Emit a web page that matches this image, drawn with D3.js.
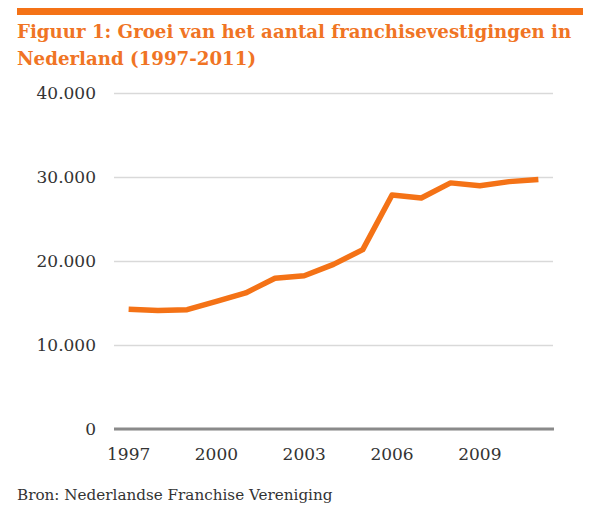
<!DOCTYPE html>
<html>
<head>
<meta charset="utf-8">
<script src="https://cdn.jsdelivr.net/npm/d3@7"></script>
<style>
  body { margin: 0; background: #fff; }
  .title { font-family: "DejaVu Serif", serif; font-weight: bold; fill: #f07424; }
  .tick text { font-family: "DejaVu Serif", serif; fill: #333; }
  .grid line { stroke: #d9d9d9; stroke-width: 1.5; }
  .grid path { display: none; }
  .line { fill: none; stroke: #f47216; stroke-width: 5.5; stroke-linejoin: round; }
</style>
</head>
<body>
<script>
const years = [1997, 1998, 1999, 2000, 2001, 2002, 2003, 2004, 2005, 2006, 2007, 2008, 2009, 2010, 2011];
const vestigingen = [14250, 14100, 14200, 15200, 16200, 17950, 18250, 19600, 21350, 27850, 27500, 29300, 28950, 29450, 29700];
const yTicks = [0, 10000, 20000, 30000, 40000];
const xLabels = [1997, 2000, 2003, 2006, 2009];
const titleLines = ["Figuur 1: Groei van het aantal franchisevestigingen in", "Nederland (1997-2011)"];
const source = "Bron: Nederlandse Franchise Vereniging";

const W = 601, H = 518;
const plotL = 114, plotR = 553, plotT = 93, plotB = 429;

const svg = d3.select("body").append("svg")
    .attr("width", W)
    .attr("height", H);

// orange band at the top
svg.append("rect")
    .attr("x", 17).attr("y", 8)
    .attr("width", 566).attr("height", 7)
    .attr("fill", "#f47216");

svg.selectAll(".title")
    .data(titleLines)
    .enter().append("text")
    .attr("class", "title")
    .attr("x", 17)
    .attr("y", (d, i) => 38 + i * 27)
    .attr("font-size", 18.2)
    .text(d => d);

const x = d3.scaleBand().domain(years).range([plotL, plotR]);
const y = d3.scaleLinear().domain([0, 40000]).range([plotB, plotT]);

const fmt = d => d === 0 ? "0" : d3.format(",")(d).replace(/,/g, ".");

// gridlines + y labels
const gy = svg.append("g")
    .attr("class", "grid")
    .attr("transform", "translate(" + plotL + ",0)")
    .call(d3.axisLeft(y)
        .tickValues(yTicks)
        .tickSize(-(plotR - plotL))
        .tickPadding(18)
        .tickFormat(fmt));
gy.selectAll(".tick text").attr("font-size", 17);

// zero line darker
svg.append("line")
    .attr("x1", plotL).attr("x2", plotR + 1)
    .attr("y1", y(0)).attr("y2", y(0))
    .attr("stroke", "#8a8a8a")
    .attr("stroke-width", 3);

// x axis labels
const gx = svg.append("g")
    .attr("transform", "translate(0," + plotB + ")")
    .call(d3.axisBottom(x)
        .tickValues(xLabels)
        .tickSize(0)
        .tickPadding(19));
gx.select(".domain").remove();
gx.selectAll(".tick text").attr("font-size", 17);

svg.append("path")
    .datum(vestigingen)
    .attr("class", "line")
    .attr("d", d3.line()
        .x((d, i) => x(years[i]) + x.bandwidth() / 2)
        .y(d => y(d)));

svg.append("text")
    .attr("x", 17).attr("y", 500)
    .attr("font-family", "DejaVu Serif, serif")
    .attr("font-size", 15.2)
    .attr("fill", "#333")
    .text(source);
</script>
</body>
</html>
